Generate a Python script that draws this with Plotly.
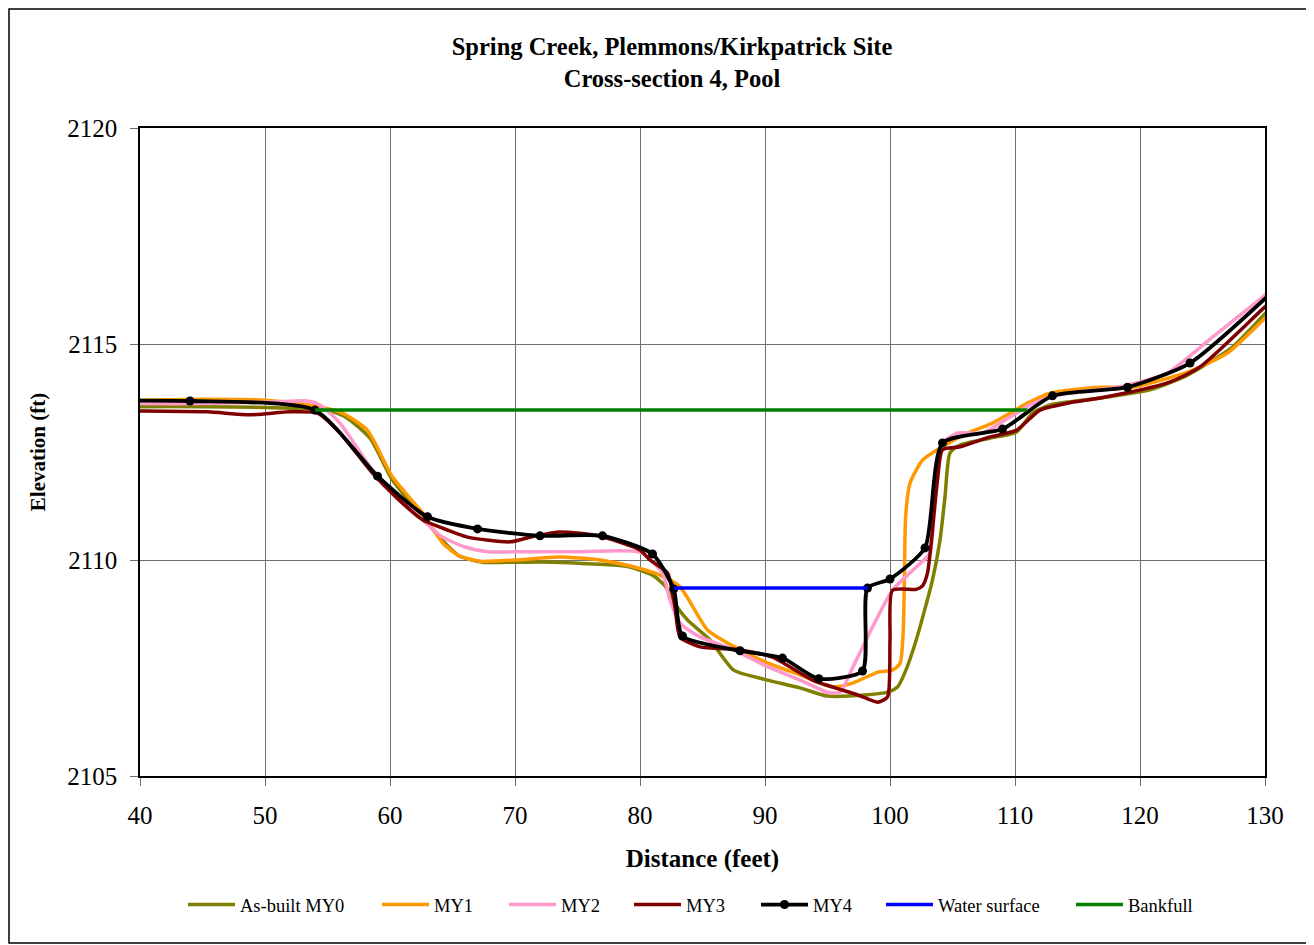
import plotly.graph_objects as go

# ---- data ----
my0_x = [38, 40, 45, 50, 53, 55, 56.5, 58.4, 60.2, 62.6, 64.2, 65.5, 67.4, 70, 73, 76.8, 79, 81, 82, 83, 83.8, 85.6, 87.5, 90.2, 92.8, 95, 98.2, 99.8, 100.6, 101.2, 102.1, 103.4, 104, 104.4, 104.8, 105.6, 108, 110.1, 111.4, 112.8, 116.8, 120.8, 123.8, 127.4, 130, 131]
my0_y = [2113.55, 2113.55, 2113.55, 2113.53, 2113.5, 2113.47, 2113.3, 2112.82, 2111.85, 2111.0, 2110.45, 2110.1, 2109.95, 2109.95, 2109.95, 2109.9, 2109.85, 2109.65, 2109.4, 2108.9, 2108.61, 2108.15, 2107.45, 2107.22, 2107.04, 2106.85, 2106.88, 2106.94, 2107.06, 2107.4, 2108.15, 2109.54, 2110.46, 2111.46, 2112.48, 2112.66, 2112.82, 2112.96, 2113.4, 2113.59, 2113.75, 2113.94, 2114.28, 2114.93, 2115.7, 2116.0]

my1_x = [38, 40, 45, 50, 53.4, 56, 58.2, 60.2, 62.6, 64.2, 65.5, 67.2, 70, 73.6, 76.8, 79.4, 81.6, 83.2, 85.4, 87.5, 90.2, 92.8, 95.4, 97, 99, 100.2, 100.8, 101.05, 101.15, 101.25, 101.6, 102.6, 104.2, 106.2, 108.2, 111, 112.8, 116.8, 119.4, 123.8, 127, 130, 131]
my1_y = [2113.7, 2113.7, 2113.72, 2113.7, 2113.59, 2113.43, 2113.0, 2111.92, 2111.09, 2110.4, 2110.1, 2109.97, 2110.0, 2110.07, 2110.0, 2109.85, 2109.65, 2109.38, 2108.38, 2108.0, 2107.62, 2107.34, 2107.06, 2107.15, 2107.4, 2107.45, 2107.6, 2108.3, 2109.5, 2111.0, 2111.78, 2112.31, 2112.62, 2112.94, 2113.17, 2113.63, 2113.86, 2114.0, 2114.0, 2114.35, 2114.79, 2115.6, 2115.9]

my2_x = [38, 40, 45, 50.6, 53.4, 54.4, 56, 58.6, 60.5, 62.6, 64.2, 66, 67.8, 70, 75, 80, 81.8, 82.4, 83.2, 84.8, 87.5, 90.2, 92.8, 95, 96, 97, 98.6, 100.2, 102.1, 103.2, 103.6, 104.2, 105.4, 107.4, 109.6, 111.2, 112.8, 114.2, 118.2, 122.2, 125.8, 130, 131]
my2_y = [2113.62, 2113.62, 2113.62, 2113.66, 2113.68, 2113.59, 2113.17, 2112.08, 2111.5, 2110.93, 2110.53, 2110.3, 2110.19, 2110.19, 2110.19, 2110.18, 2109.7, 2109.07, 2108.54, 2108.22, 2107.92, 2107.53, 2107.22, 2106.94, 2106.94, 2107.5, 2108.45, 2109.3, 2109.84, 2110.16, 2111.85, 2112.7, 2112.94, 2112.94, 2113.31, 2113.59, 2113.77, 2113.86, 2114.0, 2114.33, 2115.16, 2116.13, 2116.4]

my3_x = [38, 40, 45.4, 48.8, 52, 54.2, 56, 58.6, 60.5, 62.6, 64, 66.2, 69.6, 71.5, 73.6, 76.8, 80, 80.8, 82.2, 82.8, 83.2, 84.8, 88, 90.6, 93.8, 97.4, 99, 99.8, 100, 100.2, 102.1, 102.6, 103, 103.8, 104.2, 105.6, 108, 110.1, 112, 114.2, 116.8, 122.2, 124.8, 130, 131]
my3_y = [2113.45, 2113.45, 2113.43, 2113.36, 2113.43, 2113.4, 2112.94, 2112.01, 2111.45, 2110.93, 2110.76, 2110.53, 2110.42, 2110.55, 2110.65, 2110.55, 2110.23, 2110.0, 2109.7, 2108.9, 2108.22, 2107.99, 2107.92, 2107.75, 2107.22, 2106.88, 2106.71, 2106.83, 2108.15, 2109.3, 2109.32, 2109.4, 2109.7, 2111.85, 2112.55, 2112.62, 2112.85, 2113.0, 2113.47, 2113.63, 2113.75, 2114.1, 2114.47, 2115.86, 2116.1]

my4_x = [34, 44, 54, 59, 63, 67, 72, 77, 81, 82.7, 83.4, 88, 91.4, 94.3, 97.8, 98.2, 100, 102.8, 104.2, 109, 113, 119, 124, 131]
my4_y = [2113.68, 2113.68, 2113.47, 2111.94, 2111.0, 2110.72, 2110.56, 2110.56, 2110.14, 2109.33, 2108.24, 2107.9, 2107.73, 2107.25, 2107.43, 2109.35, 2109.56, 2110.28, 2112.71, 2113.03, 2113.8, 2114.0, 2114.56, 2116.32]

water_x = [82.7, 98.2]
water_y = [2109.35, 2109.35]

bank_x = [54, 111]
bank_y = [2113.47, 2113.47]

x_ticks = [40, 50, 60, 70, 80, 90, 100, 110, 120, 130]
y_ticks = [2105, 2110, 2115, 2120]

SERIF = "Liberation Serif, Times New Roman, serif"

# figure is placed 8px inside the page (body margin)
W, H = 1306, 937
L, R, T, B = 132, 49, 120, 169
PW = W - L - R
PH = H - T - B

def px_x(page_x):
    return (page_x - 8 - L) / PW

def px_y(page_y):
    return (H - B - (page_y - 8)) / PH

fig = go.Figure()
series = [
    ("As-built MY0", my0_x, my0_y, "#808000", "legend"),
    ("MY1", my1_x, my1_y, "#FF9900", "legend2"),
    ("MY2", my2_x, my2_y, "#FF99CC", "legend3"),
    ("MY3", my3_x, my3_y, "#800000", "legend4"),
]
for name, xs, ys, col, lg in series:
    fig.add_trace(go.Scatter(x=xs, y=ys, name=name, mode="lines", legend=lg,
                             line=dict(color=col, width=3.5, shape="spline", smoothing=0.6)))

fig.add_trace(go.Scatter(x=my4_x, y=my4_y, name="MY4", mode="lines+markers", legend="legend5",
                         line=dict(color="black", width=3.8, shape="spline", smoothing=0.6),
                         marker=dict(color="black", size=9)))
fig.add_trace(go.Scatter(x=water_x, y=water_y, name="Water surface", mode="lines", legend="legend6",
                         line=dict(color="#0000FF", width=3.5)))
fig.add_trace(go.Scatter(x=bank_x, y=bank_y, name="Bankfull", mode="lines", legend="legend7",
                         line=dict(color="#008000", width=3.5)))

legend_starts = [183, 377, 504, 629, 756, 881, 1071]
leg_y = px_y(905)
legend_cfg = {}
for i, sx in enumerate(legend_starts):
    key = "legend" if i == 0 else f"legend{i+1}"
    legend_cfg[key] = dict(orientation="h", x=px_x(sx), xanchor="left", xref="paper",
                           y=leg_y, yanchor="middle", yref="paper",
                           font=dict(family=SERIF, size=18.5, color="black"),
                           bgcolor="rgba(0,0,0,0)", itemwidth=47)

fig.update_layout(
    width=W, height=H,
    margin=dict(l=L, r=R, t=T, b=B),
    paper_bgcolor="white", plot_bgcolor="white",
    font=dict(family=SERIF, color="black", size=20),
    title=dict(text="<b>Spring Creek, Plemmons/Kirkpatrick Site<br>Cross-section 4, Pool</b>",
               x=px_x(672), xref="paper", xanchor="center",
               y=1 - 47 / H, yref="container", yanchor="top",
               font=dict(family=SERIF, size=24.5, color="black")),
    showlegend=True,
    **legend_cfg,
)
fig.update_xaxes(range=[40, 130], tickvals=x_ticks, showgrid=True, gridcolor="#707070", gridwidth=1,
                 showline=True, linecolor="black", linewidth=1.5, mirror=True,
                 ticks="outside", ticklen=8, tickcolor="#707070", ticklabelstandoff=8,
                 tickfont=dict(family=SERIF, size=25),
                 title=dict(text="<b>Distance (feet)</b>", font=dict(family=SERIF, size=25), standoff=22),
                 zeroline=False)
fig.update_yaxes(range=[2105, 2120], tickvals=y_ticks, showgrid=True, gridcolor="#707070", gridwidth=1,
                 showline=True, linecolor="black", linewidth=1.5, mirror=True,
                 ticks="outside", ticklen=8, tickcolor="#707070", ticklabelstandoff=8,
                 tickfont=dict(family=SERIF, size=25),
                 title=dict(text="<b>Elevation (ft)</b>", font=dict(family=SERIF, size=21), standoff=16),
                 zeroline=False)

# outer chart border
fig.add_shape(type="rect", xref="paper", yref="paper",
              x0=px_x(9), x1=px_x(1309),
              y0=px_y(943), y1=px_y(9),
              line=dict(color="black", width=1.5), fillcolor="rgba(0,0,0,0)", layer="below")

fig.write_html("out.html")
